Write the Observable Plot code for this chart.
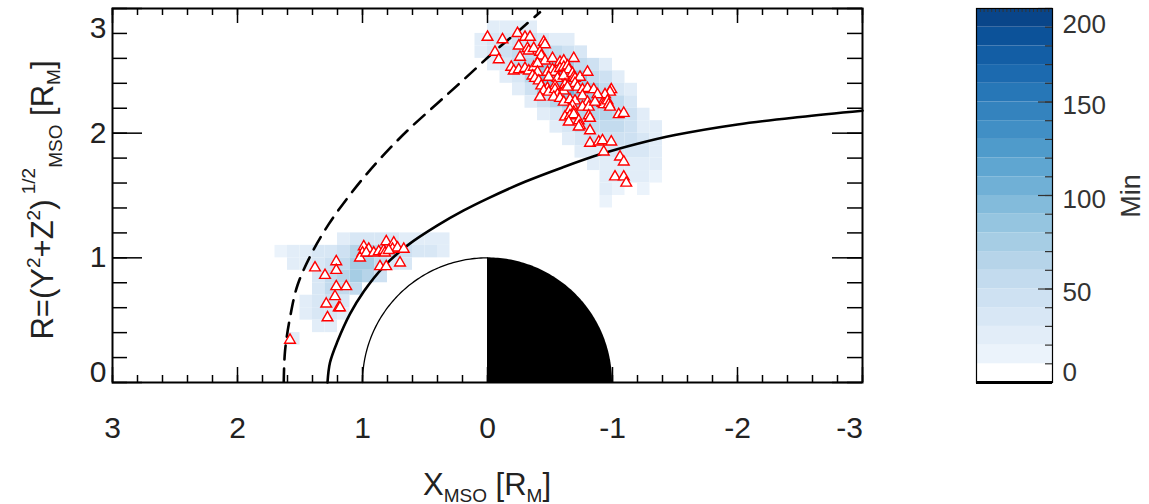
<!DOCTYPE html>
<html><head><meta charset="utf-8">
<script src="https://cdn.jsdelivr.net/npm/d3@7"></script>
<script src="https://cdn.jsdelivr.net/npm/@observablehq/plot@0.6"></script>
<style>
body{margin:0;background:#fff;}
#wrap{position:relative;width:1149px;height:504px;font-family:"Liberation Sans",Arial,sans-serif;}
#main{position:absolute;left:0;top:0;}
#cbar{position:absolute;left:960px;top:0;}
</style></head><body><div id="wrap"><div id="main"></div><div id="cbar"></div></div>
<script>
// ---- data ----
const xTickLabels = [3, 2, 1, 0, -1, -2, -3];
const yTickLabels = [0, 1, 2, 3];
const cbTickLabels = [0, 50, 100, 150, 200];
const cbBands = d3.range(0, 200, 10);      // colour-bar levels (Min)

// magnetopause (solid): X, R
const mpX = [1.28, 1.26, 1.20, 1.10, 0.99, 0.83, 0.64, 0.40, 0.19, 0.00, -0.30, -0.60, -0.90, -1.20, -1.50, -2.00, -2.50, -3.00];
const mpR = [0.00, 0.16, 0.33, 0.55, 0.73, 0.93, 1.10, 1.26, 1.38, 1.475, 1.61, 1.725, 1.83, 1.915, 1.985, 2.07, 2.13, 2.18];
// bow shock (dashed)
const bsX = [1.63, 1.62, 1.58, 1.52, 1.41, 1.27, 1.12, 0.96, 0.78, 0.62, 0.40, 0.19, -0.05, -0.26, -0.42];
const bsR = [0.00, 0.25, 0.52, 0.78, 1.03, 1.27, 1.48, 1.68, 1.88, 2.04, 2.24, 2.43, 2.65, 2.83, 2.97];

// dwell-time cells: [X centre, R centre, minutes]
const cellsUpper = [
 [0.05,2.75,24],[0.05,2.65,24],
 [-0.05,2.85,24],[-0.05,2.75,32],[-0.05,2.65,32],[-0.05,2.55,24],
 [-0.15,2.85,24],[-0.15,2.75,39],[-0.15,2.65,44],[-0.15,2.55,32],[-0.15,2.45,24],
 [-0.25,2.85,29],[-0.25,2.75,44],[-0.25,2.65,51],[-0.25,2.55,58],[-0.25,2.45,39],[-0.25,2.35,24],
 [-0.35,2.85,24],[-0.35,2.75,44],[-0.35,2.65,58],[-0.35,2.55,69],[-0.35,2.45,66],[-0.35,2.35,44],[-0.35,2.25,24],
 [-0.45,2.75,36],[-0.45,2.65,58],[-0.45,2.55,87],[-0.45,2.45,95],[-0.45,2.35,72],[-0.45,2.25,44],[-0.45,2.15,24],
 [-0.55,2.75,29],[-0.55,2.65,51],[-0.55,2.55,87],[-0.55,2.45,104],[-0.55,2.35,95],[-0.55,2.25,66],[-0.55,2.15,36],[-0.55,2.05,24],
 [-0.65,2.75,24],[-0.65,2.65,44],[-0.65,2.55,72],[-0.65,2.45,95],[-0.65,2.35,104],[-0.65,2.25,81],[-0.65,2.15,58],[-0.65,2.05,36],[-0.65,1.95,24],
 [-0.75,2.65,36],[-0.75,2.55,58],[-0.75,2.45,81],[-0.75,2.35,87],[-0.75,2.25,87],[-0.75,2.15,66],[-0.75,2.05,51],[-0.75,1.95,36],[-0.75,1.85,24],
 [-0.85,2.55,44],[-0.85,2.45,58],[-0.85,2.35,72],[-0.85,2.25,81],[-0.85,2.15,66],[-0.85,2.05,51],[-0.85,1.95,44],[-0.85,1.85,29],[-0.85,1.75,24],
 [-0.95,2.55,29],[-0.95,2.45,44],[-0.95,2.35,58],[-0.95,2.25,66],[-0.95,2.15,66],[-0.95,2.05,51],[-0.95,1.95,44],[-0.95,1.85,36],[-0.95,1.75,29],[-0.95,1.65,24],[-0.95,1.55,24],[-0.95,1.45,17],
 [-1.05,2.45,29],[-1.05,2.35,36],[-1.05,2.25,51],[-1.05,2.15,58],[-1.05,2.05,51],[-1.05,1.95,44],[-1.05,1.85,36],[-1.05,1.75,29],[-1.05,1.65,24],[-1.05,1.55,17],
 [-1.15,2.35,24],[-1.15,2.25,36],[-1.15,2.15,44],[-1.15,2.05,44],[-1.15,1.95,44],[-1.15,1.85,36],[-1.15,1.75,29],[-1.15,1.65,24],
 [-1.25,2.15,24],[-1.25,2.05,29],[-1.25,1.95,36],[-1.25,1.85,36],[-1.25,1.75,29],[-1.25,1.65,24],[-1.25,1.55,17],
 [-1.35,2.05,24],[-1.35,1.95,29],[-1.35,1.85,29],[-1.35,1.75,24],[-1.35,1.65,17]
];
const cellsLower = [
 [1.65,1.05,16],
 [1.55,1.05,23],[1.55,0.95,20],[1.55,0.35,23],
 [1.45,1.05,27],[1.45,0.95,27],[1.45,0.65,23],[1.45,0.55,23],
 [1.35,1.05,31],[1.35,0.95,38],[1.35,0.85,38],[1.35,0.75,38],[1.35,0.65,38],[1.35,0.55,31],[1.35,0.45,23],
 [1.25,1.05,38],[1.25,0.95,48],[1.25,0.85,59],[1.25,0.75,59],[1.25,0.65,48],[1.25,0.55,38],[1.25,0.45,23],
 [1.15,1.15,27],[1.15,1.05,48],[1.15,0.95,59],[1.15,0.85,69],[1.15,0.75,59],[1.15,0.65,38],[1.15,0.55,27],
 [1.05,1.15,31],[1.05,1.05,69],[1.05,0.95,79],[1.05,0.85,79],[1.05,0.75,59],
 [0.95,1.15,31],[0.95,1.05,79],[0.95,0.95,79],[0.95,0.85,69],
 [0.85,1.15,31],[0.85,1.05,69],[0.85,0.95,59],[0.85,0.85,48],
 [0.75,1.15,31],[0.75,1.05,59],[0.75,0.95,38],
 [0.65,1.15,27],[0.65,1.05,48],[0.65,0.95,31],
 [0.55,1.15,23],[0.55,1.05,38],
 [0.45,1.15,23],[0.45,1.05,31],
 [0.35,1.15,20],[0.35,1.05,23]
];

// event locations (triangles): [X, R]
const eventsUpper = [
 [0.00,2.77],[-0.12,2.75],[-0.24,2.80],[-0.30,2.77],[-0.34,2.77],[-0.06,2.65],[-0.09,2.59],[-0.25,2.70],
 [-0.32,2.68],[-0.33,2.66],[-0.37,2.68],[-0.26,2.61],[-0.45,2.73],[-0.46,2.71],[-0.42,2.65],[-0.43,2.62],
 [-0.46,2.58],[-0.52,2.60],[-0.58,2.57],[-0.61,2.58],[-0.69,2.60],[-0.19,2.53],[-0.21,2.50],[-0.25,2.51],
 [-0.30,2.52],[-0.33,2.50],[-0.37,2.53],[-0.40,2.56],[-0.40,2.49],[-0.48,2.49],[-0.52,2.51],[-0.54,2.49],
 [-0.58,2.52],[-0.61,2.53],[-0.64,2.54],[-0.65,2.51],[-0.36,2.46],[-0.38,2.44],[-0.41,2.42],[-0.49,2.45],
 [-0.56,2.44],[-0.61,2.46],[-0.68,2.48],[-0.69,2.45],[-0.70,2.44],[-0.74,2.45],[-0.80,2.49],[-0.43,2.38],
 [-0.48,2.36],[-0.54,2.38],[-0.62,2.39],[-0.70,2.40],[-0.72,2.37],[-0.76,2.35],[-0.80,2.36],[-0.85,2.35],
 [-0.99,2.35],[-0.98,2.33],[-0.94,2.31],[-0.45,2.34],[-0.49,2.33],[-0.54,2.35],[-0.56,2.31],[-0.61,2.34],
 [-0.64,2.37],[-0.42,2.29],[-0.53,2.29],[-0.58,2.28],[-0.61,2.25],[-0.66,2.27],[-0.70,2.26],[-0.76,2.30],
 [-0.80,2.25],[-0.88,2.31],[-0.92,2.24],[-0.93,2.23],[-0.96,2.26],[-0.97,2.23],[-0.98,2.21],[-0.68,2.22],
 [-0.66,2.19],[-0.69,2.17],[-0.76,2.21],[-0.81,2.21],[-0.86,2.25],[-0.62,2.13],[-0.66,2.14],[-0.69,2.15],
 [-0.65,2.09],[-0.73,2.10],[-0.74,2.06],[-0.73,2.05],[-0.81,2.14],[-0.82,2.12],[-1.05,2.15],[-1.09,2.16],
 [-0.82,2.02],[-0.82,1.92],[-0.89,1.93],[-0.92,1.94],[-0.99,1.93],[-0.93,1.85],[-1.06,1.81],[-1.09,1.77],
 [-1.02,1.65],[-1.09,1.65],[-1.11,1.60]
];
const eventsLower = [
 [1.38,0.92],[1.30,0.86],[1.21,0.97],[1.21,0.90],[1.21,0.77],[1.13,0.77],[1.22,0.69],[1.29,0.63],
 [1.19,0.60],[1.18,0.60],[1.28,0.52],[1.58,0.34],[0.99,1.09],[1.00,1.04],[1.02,1.00],[0.95,1.07],
 [0.97,1.04],[0.91,1.04],[0.87,1.05],[0.83,1.06],[0.81,1.13],[0.75,1.12],[0.82,1.04],[0.76,1.07],
 [0.72,1.08],[0.67,1.07],[0.86,0.93],[0.81,0.93],[0.70,0.96],[0.79,1.06]
];

// ---- derived tables ----
const BIN = 0.1;
const cells = cellsUpper.concat(cellsLower);
const events = eventsUpper.concat(eventsLower);
const magnetopause = mpX.map((x, i) => ({x, r: mpR[i]}));
const bowShock = bsX.map((x, i) => ({x, r: bsR[i]}));
const PLANET_R = 1;
const ang = d3.range(0, 90.5, 1).map(a => a * Math.PI / 180);
const dayArc = ang.map(a => ({x: PLANET_R * Math.cos(a), r: PLANET_R * Math.sin(a)}));
const nightArc = ang.map(a => ({x: -PLANET_R * Math.cos(a), r: PLANET_R * Math.sin(a)}));

const bandColors = cbBands.map((b, k) => k === 0 ? "#ffffff" : d3.interpolateBlues(0.06 + (k - 1) / 18 * 0.86));
const colorScale = {type: "threshold", domain: cbBands.slice(1), range: bandColors};

const FONT = "Liberation Sans, Arial, sans-serif";
const INK = "#222";
const fmt = d => String(d);
const FS = 30;

// ---- main panel ----
const W = 960, H = 504, mL = 112, mR = 98, mT = 8, mB = 122;
const iW = W - mL - mR, iH = H - mT - mB;
const xMinor = d3.range(-15, 16).map(k => k / 5);
const yMinor = d3.range(0, 16).map(k => k / 5);
const xMajor = xTickLabels, yMajor = yTickLabels;

const main = Plot.plot({
  width: W, height: H, marginLeft: mL, marginRight: mR, marginTop: mT, marginBottom: mB,
  style: {fontFamily: FONT, background: "white", overflow: "visible"},
  x: {domain: [3, -3], axis: null},
  y: {domain: [0, 3], axis: null},
  color: colorScale,
  marks: [
    Plot.rect(cells, {x1: d => d[0] + BIN / 2, x2: d => d[0] - BIN / 2, y1: d => d[1] - BIN / 2, y2: d => d[1] + BIN / 2, fill: d => d[2]}),
    Plot.areaY(nightArc, {x: "x", y1: 0, y2: "r", fill: "black"}),
    Plot.line(dayArc, {x: "x", y: "r", stroke: "black", strokeWidth: 1.3}),
    Plot.line(magnetopause, {x: "x", y: "r", curve: "catmull-rom", stroke: "black", strokeWidth: 2.6}),
    Plot.line(bowShock, {x: "x", y: "r", curve: "catmull-rom", stroke: "black", strokeWidth: 2.6, strokeDasharray: "14,9", clip: true}),
    Plot.dot(events, {x: d => d[0], y: d => d[1], symbol: "triangle", r: 4, stroke: "#ff0000", fill: "white", strokeWidth: 1.4}),
    // ticks (inward, all four sides)
    Plot.ruleX(xMinor, {insetTop: iH - 7, stroke: "black", strokeWidth: 1.5}),
    Plot.ruleX(xMinor, {insetBottom: iH - 7, stroke: "black", strokeWidth: 1.5}),
    Plot.ruleX(xMajor, {insetTop: iH - 15, stroke: "black", strokeWidth: 1.5}),
    Plot.ruleX(xMajor, {insetBottom: iH - 15, stroke: "black", strokeWidth: 1.5}),
    Plot.ruleY(yMinor, {insetRight: iW - 15, stroke: "black", strokeWidth: 1.5}),
    Plot.ruleY(yMinor, {insetLeft: iW - 15, stroke: "black", strokeWidth: 1.5}),
    Plot.ruleY(yMajor, {insetRight: iW - 30, stroke: "black", strokeWidth: 1.5}),
    Plot.ruleY(yMajor, {insetLeft: iW - 30, stroke: "black", strokeWidth: 1.5}),
    Plot.frame({stroke: "black", strokeWidth: 2}),
    // tick labels
    Plot.axisX(xTickLabels.slice(0, 6), {anchor: "bottom", label: null, tickSize: 0, tickPadding: 34, fontSize: FS, fill: INK, tickFormat: fmt}),
    Plot.axisX(xTickLabels.slice(6), {anchor: "bottom", label: null, tickSize: 0, tickPadding: 34, fontSize: FS, fill: INK, dx: -13, tickFormat: fmt}),
    Plot.axisY(yTickLabels.slice(1, 3), {anchor: "left", label: null, tickSize: 0, tickPadding: 6, fontSize: FS, fill: INK, tickFormat: fmt}),
    Plot.axisY(yTickLabels.slice(0, 1), {anchor: "left", label: null, tickSize: 0, tickPadding: 6, fontSize: FS, fill: INK, dy: -10, tickFormat: fmt}),
    Plot.axisY(yTickLabels.slice(3), {anchor: "left", label: null, tickSize: 0, tickPadding: 6, fontSize: FS, fill: INK, dy: 20, tickFormat: fmt})
  ]
});
document.getElementById("main").appendChild(main);

// axis titles with sub/superscripts
const svgM = d3.select(main.tagName.toLowerCase() === "svg" ? main : main.querySelector("svg"));
const xt = svgM.append("text").attr("x", 487).attr("y", 495).attr("text-anchor", "middle")
  .attr("font-family", FONT).attr("font-size", 31).attr("fill", INK);
xt.append("tspan").text("X");
xt.append("tspan").attr("font-size", 19).attr("dy", 7).text("MSO");
xt.append("tspan").attr("dy", -7).text(" [R");
xt.append("tspan").attr("font-size", 19).attr("dy", 7).text("M");
xt.append("tspan").attr("dy", -7).text("]");

const yt = svgM.append("text").attr("transform", "translate(53,200) rotate(-90)").attr("text-anchor", "middle")
  .attr("font-family", FONT).attr("font-size", 31).attr("fill", INK);
yt.append("tspan").text("R=(Y");
yt.append("tspan").attr("font-size", 19).attr("dy", -13).text("2");
yt.append("tspan").attr("dy", 13).text("+Z");
yt.append("tspan").attr("font-size", 19).attr("dy", -13).text("2");
yt.append("tspan").attr("dy", 13).text(")");
yt.append("tspan").attr("font-size", 19).attr("dy", -18).text(" 1/2");
yt.append("tspan").attr("font-size", 19).attr("dy", 27).text("MSO");
yt.append("tspan").attr("dy", -9).text(" [R");
yt.append("tspan").attr("font-size", 19).attr("dy", 7).text("M");
yt.append("tspan").attr("dy", -7).text("]");

// ---- colour bar ----
const CW = 189, cL = 16, cR = 97;
const ciW = CW - cL - cR;
const cbMinor = d3.range(0, 201, 10);
const cbTop = d3.range(0, 21).map(k => k / 20);
const cbar = Plot.plot({
  width: CW, height: H, marginLeft: cL, marginRight: cR, marginTop: mT, marginBottom: mB,
  style: {fontFamily: FONT, background: "white", overflow: "visible"},
  x: {domain: [0, 1], axis: null},
  y: {domain: [0, 200], axis: null},
  color: colorScale,
  marks: [
    Plot.rect(cbBands, {x1: 0, x2: 1, y1: d => d, y2: d => d + 10, fill: d => d + 5}),
    Plot.ruleY(cbMinor, {insetLeft: ciW - 7, stroke: "#333", strokeWidth: 1.2}),
    Plot.ruleY(cbTickLabels, {insetLeft: ciW - 14, stroke: "#333", strokeWidth: 1.2}),
    Plot.ruleX(cbTop, {insetBottom: iH - 4, stroke: "#333", strokeWidth: 1}),
    Plot.frame({stroke: "black", strokeWidth: 1.2}),
    Plot.ruleY([0], {stroke: "black", strokeWidth: 3}),
    Plot.axisY(cbTickLabels.slice(1, 4), {anchor: "right", label: null, tickSize: 0, tickPadding: 10, fontSize: 26, fill: "#333", dy: 4, tickFormat: fmt}),
    Plot.axisY(cbTickLabels.slice(0, 1), {anchor: "right", label: null, tickSize: 0, tickPadding: 10, fontSize: 26, fill: "#333", dy: -10, tickFormat: fmt}),
    Plot.axisY(cbTickLabels.slice(4), {anchor: "right", label: null, tickSize: 0, tickPadding: 10, fontSize: 26, fill: "#333", dy: 16, tickFormat: fmt})
  ]
});
document.getElementById("cbar").appendChild(cbar);
const svgC = d3.select(cbar.tagName.toLowerCase() === "svg" ? cbar : cbar.querySelector("svg"));
svgC.append("text").attr("transform", "translate(180,196) rotate(-90)").attr("text-anchor", "middle")
  .attr("font-family", FONT).attr("font-size", 27).attr("fill", "#333").text("Min");
</script>
</body></html>
